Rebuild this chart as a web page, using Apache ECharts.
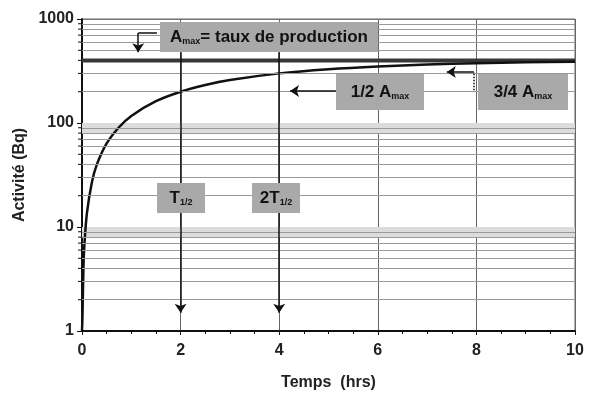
<!DOCTYPE html>
<html lang="fr">
<head>
    <meta charset="UTF-8">
    <title>Activité</title>
    <style>
        body { margin: 0; background: #fff; }
        div#main { width: 593px; height: 396px; }
    </style>
</head>
<body>
    <div id="main"></div>
    <script src="https://cdn.jsdelivr.net/npm/echarts@6/dist/echarts.min.js"></script>
    <script>
        // time (hrs) and activity (Bq)
        const temps = [0, 0.01, 0.03, 0.05, 0.1, 0.2, 0.3, 0.5, 0.75, 1, 1.5, 2, 2.5, 3, 4, 5, 6, 7, 8, 9, 10];
        const activite = [1, 1.4, 4.2, 6.9, 13.6, 26.8, 39.8, 63.6, 91, 117, 162, 200, 232, 259, 300, 329, 350, 365, 375, 383, 388];
        const amax = 400;
        const xTicks = [0, 2, 4, 6, 8, 10];
        const yMinor = [2, 3, 4, 5, 6, 7, 8, 9, 20, 30, 40, 50, 60, 70, 80, 90, 200, 300, 400, 500, 600, 700, 800, 900];

        const font = '"Liberation Sans", Arial, sans-serif';
        const chart = echarts.init(document.getElementById('main'));

        const arrow = (a, b, dashed, head) => [
            { coord: a, symbol: 'none' },
            { coord: b, symbol: head ? 'arrow' : 'none', symbolSize: 9,
              lineStyle: { color: '#111', width: 1.5, type: dashed ? 'dotted' : 'solid' } }
        ];

        const option = {
            animation: false,
            grid: { left: 82, right: 18, top: 19, bottom: 65, show: true, borderColor: '#666', borderWidth: 1 },
            xAxis: {
                type: 'value', min: 0, max: 10, interval: 2,
                name: 'Temps  (hrs)', nameLocation: 'middle', nameGap: 44,
                nameTextStyle: { fontFamily: font, fontWeight: 'bold', fontSize: 16, color: '#222' },
                axisLine: { lineStyle: { color: '#111', width: 2 } },
                axisTick: { inside: false, length: 4, lineStyle: { color: '#111' } },
                minorTick: { show: true, splitNumber: 4, length: 3, lineStyle: { color: '#111' } },
                axisLabel: { fontFamily: font, fontWeight: 'bold', fontSize: 16, color: '#222', margin: 12,
                    formatter: v => xTicks.includes(v) ? String(v) : '' },
                splitLine: { show: true, lineStyle: { color: '#666', width: 1 } }
            },
            yAxis: {
                type: 'log', logBase: 10, min: 1, max: 1000,
                name: 'Activité (Bq)', nameLocation: 'middle', nameGap: 48,
                nameTextStyle: { fontFamily: font, fontWeight: 'bold', fontSize: 16, color: '#222' },
                axisLine: { show: true, lineStyle: { color: '#111', width: 2 } },
                axisTick: { show: true, length: 5, lineStyle: { color: '#111' } },
                axisLabel: { fontFamily: font, fontWeight: 'bold', fontSize: 16, color: '#222', margin: 8,
                    formatter: v => String(Math.round(v)) },
                splitLine: { show: true, lineStyle: { color: '#777', width: 1 } }
            },
            series: [
                {
                    type: 'line', data: [[0, 1], [10, 1]], symbol: 'none', lineStyle: { opacity: 0 }, silent: true,
                    markArea: {
                        silent: true,
                        itemStyle: { color: '#dcdcdc' },
                        data: [[{ yAxis: 80 }, { yAxis: 100 }], [{ yAxis: 8 }, { yAxis: 10 }]]
                    },
                    markLine: {
                        silent: true, symbol: 'none', label: { show: false }, animation: false,
                        lineStyle: { color: '#9a9a9a', width: 1, type: 'solid' },
                        data: yMinor.filter(v => v !== amax).map(v => ({ yAxis: v }))
                    }
                },
                {
                    type: 'line', data: [[0, amax], [10, amax]], symbol: 'none',
                    lineStyle: { color: '#383838', width: 4 }, z: 3
                },
                {
                    type: 'line', data: temps.map((t, i) => [t, activite[i]]), symbol: 'none', smooth: 0.3,
                    lineStyle: { color: '#111', width: 2.5 }, z: 4,
                    markLine: {
                        silent: true, label: { show: false }, animation: false,
                        lineStyle: { color: '#111', width: 1.5 },
                        data: [
                            arrow([2, 480], [2, 1.5], false, true),
                            arrow([4, 480], [4, 1.5], false, true),
                            arrow([5.15, 203], [4.22, 203], false, true),
                            arrow([7.95, 207], [7.95, 310], true, false),
                            arrow([7.95, 310], [7.4, 310], false, true),
                            arrow([1.52, 733], [1.14, 733], false, false),
                            arrow([1.14, 733], [1.14, 480], false, true)
                        ]
                    }
                }
            ]
        };
        chart.setOption(option);

        // minor ticks on the log axis and the grey label boxes
        const x0 = chart.convertToPixel({ xAxisIndex: 0 }, 0);
        const sub = { fontSize: 9, fontWeight: 'bold', fontFamily: font, verticalAlign: 'bottom', padding: [9, 0, 0, 0] };
        const box = (x, y, w, h, rich) => ({
            type: 'group', x: x, y: y,
            children: [
                { type: 'rect', z: 100, shape: { x: 0, y: 0, width: w, height: h }, style: { fill: '#a9a9a9' } },
                { type: 'text', z: 101, x: w / 2, y: h / 2, style: { text: rich, align: 'center', verticalAlign: 'middle',
                    fontFamily: font, fontWeight: 'bold', fontSize: 17, fill: '#111', rich: { s: sub } } }
            ]
        });
        const graphics = yMinor.map(v => {
            const y = chart.convertToPixel({ yAxisIndex: 0 }, v);
            return { type: 'line', shape: { x1: x0 - 4, y1: y, x2: x0, y2: y }, style: { stroke: '#111', lineWidth: 1 } };
        });
        graphics.push(
            box(160, 22, 218, 30, 'A{s|max}= taux de production'),
            box(157, 183, 48, 30, 'T{s|1/2}'),
            box(252, 183, 48, 30, '2T{s|1/2}'),
            box(336, 74, 88, 36, '1/2 A{s|max}'),
            box(478, 74, 90, 36, '3/4 A{s|max}')
        );
        chart.setOption({ graphic: graphics });
    </script>
</body>
</html>
